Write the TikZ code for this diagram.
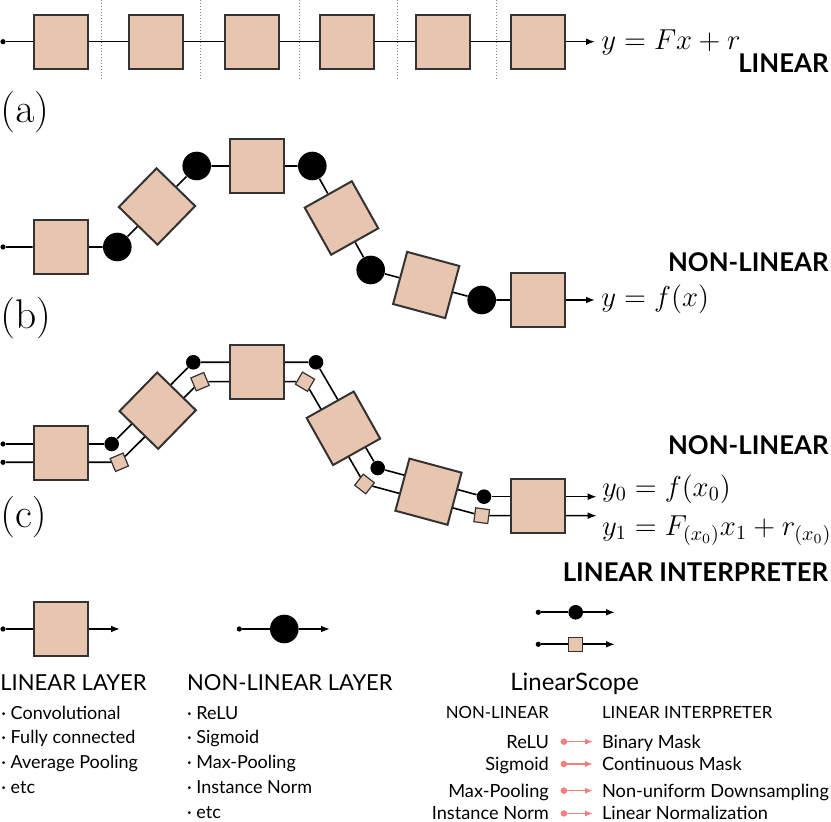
\documentclass[tikz,border=0pt]{standalone}
\usepackage[no-math]{fontspec}
\setmainfont{Lato}
\usetikzlibrary{arrows.meta,backgrounds,calc}
\definecolor{peach}{RGB}{232,197,174}
\definecolor{edge}{RGB}{51,51,51}
\definecolor{salmon}{RGB}{245,125,125}
\newcommand{\boxsize}{27pt}
\newcommand{\dotsize}{2.6pt}
\tikzset{
  linbox/.style={draw=edge, fill=peach, line width=1pt, minimum size=\boxsize, inner sep=0pt},
  nlball/.style={circle, fill=black, minimum size=14.3pt, inner sep=0pt},
  nlsmall/.style={circle, fill=black, minimum size=7.3pt, inner sep=0pt},
  lisquare/.style={draw=edge, fill=peach, line width=0.6pt, minimum size=7pt, inner sep=0pt},
  indot/.style={circle, fill=black, minimum size=\dotsize, inner sep=0pt},
  wire/.style={line width=0.8pt},
  outwire/.style={wire, -{Latex[length=4.5pt,width=3.4pt]}},
  rowlabel/.style={anchor=west, inner sep=0pt, font=\fontsize{20.5}{22}\selectfont},
  eqn/.style={anchor=base west, inner sep=0pt, font=\fontsize{14}{16}\selectfont},
  kind/.style={anchor=base east, inner sep=0pt, font=\fontsize{12.9}{14}\selectfont\bfseries},
  legtitle/.style={anchor=base west, inner sep=0pt, font=\fontsize{11}{13}\selectfont},
  entry/.style={anchor=base west, inner sep=0pt, font=\fontsize{9}{11}\selectfont},
  thead/.style={inner sep=0pt, text height=5.9pt, text depth=0pt, font=\fontsize{8.4}{10}\selectfont},
  tcell/.style={inner sep=0pt, text height=6.4pt, text depth=0pt, font=\fontsize{9.1}{11}\selectfont},
  maparrow/.style={salmon, line width=0.6pt, {Circle[length=3.2pt]}-{Latex[length=3.8pt,width=3pt]}},
}
\begin{document}
\begin{tikzpicture}[x=0.5pt,y=-0.5pt]
\useasboundingbox (0,0) rectangle (831,822);

    %% (a) one linear chain, cut by dotted lines
    \node (a0) at (3,41.7) [indot] {};
    \foreach \i/\x in {1/60.5,2/156,3/251.5,4/347,5/442.5,6/538}
    { \node (a\i) at (\x,41.7) [linbox] {};}
    \coordinate (aout) at (595,41.7);
    \begin{scope}[on background layer]
      \draw[wire] (a0) -- (a1) -- (a2) -- (a3) -- (a4) -- (a5) -- (a6);
      \draw[outwire] (a6) -- (aout);
    \end{scope}
    \foreach \x in {101.7,200.3,299,397.7,496.7}
    { \draw[gray, line width=0.5pt, dash pattern=on 0.5pt off 1pt] (\x,0) -- (\x,80);}
    \node (la) at (0,112) [rowlabel] {$(\mathrm{a})$};
    \node (eqa) at (601,50) [eqn] {$y=Fx+r$};
    \node (kinda) at (829,72.7) [kind] {LINEAR};

    %% (b) linear layers with non-linear ones between
    \node (b0) at (3,247) [indot] {};
    \node (b1) at (60.5,247) [linbox] {};
    \node (bn1) at (117.3,247) [nlball] {};
    \node (bn2) at (196.7,166) [nlball] {};
    \node (b2) at ($(bn1)!0.5!(bn2)$) [linbox, rotate=45.7] {};
    \node (b3) at (257,166) [linbox] {};
    \node (bn3) at (312.3,166) [nlball] {};
    \node (bn4) at (370.7,270) [nlball] {};
    \node (b4) at ($(bn3)!0.5!(bn4)$) [linbox, rotate=-60.7] {};
    \node (bn5) at (481.7,300) [nlball] {};
    \node (b5) at ($(bn4)!0.5!(bn5)$) [linbox, rotate=-15.1] {};
    \node (b6) at (538,300) [linbox] {};
    \coordinate (bout) at (595,300);
    \begin{scope}[on background layer]
      \draw[wire] (b0) -- (b1) -- (bn1) -- (b2) -- (bn2) -- (b3) -- (bn3)
      -- (b4) -- (bn4) -- (b5) -- (bn5) -- (b6);
      \draw[outwire] (b6) -- (bout);
    \end{scope}
    \node (lb) at (0,318) [rowlabel] {$(\mathrm{b})$};
    \node (eqb) at (601,306.6) [eqn] {$y=f(x)$};
    \node (kindb) at (829,271.7) [kind] {NON-LINEAR};

    %% (c) the same net, run twice side by side
    \node (c0a) at (3,444) [indot] {};
    \node (c0b) at (3,462.3) [indot] {};
    \node (c1) at (60.5,453) [linbox] {};
    \node (cn1) at (111.7,444) [nlsmall] {};
    \node (cs1) at (119.3,462.3) [lisquare, rotate=22.9] {};
    \node (c2) at (157.7,410.7) [linbox, rotate=45.7] {};
    \node (cn2) at (193.3,362.3) [nlsmall] {};
    \node (cs2) at (200,381.7) [lisquare, rotate=22.9] {};
    \node (c3) at (257,371.7) [linbox] {};
    \node (cn3) at (316,362.3) [nlsmall] {};
    \node (cs3) at (305,381.7) [lisquare, rotate=-30.4] {};
    \node (c4) at (343.4,428.3) [linbox, rotate=-60.7] {};
    \node (cn4) at (377.7,468) [nlsmall] {};
    \node (cs4) at (364.5,484) [lisquare, rotate=-37.9] {};
    \node (c5) at (428.5,491.7) [linbox, rotate=-15.1] {};
    \node (cn5) at (484,496.7) [nlsmall] {};
    \node (cs5) at (481.7,515.7) [lisquare, rotate=-7.6] {};
    \node (c6) at (538,506) [linbox] {};
    \coordinate (cout0) at (596.7,496.7);
    \coordinate (cout1) at (596.7,515.7);
    \begin{scope}[on background layer]
      \draw[wire] (c0a) -- (cn1) -- (cn2) -- (cn3) -- (cn4) -- (cn5);
      \draw[wire] (c0b) -- (cs1) -- (cs2) -- (cs3) -- (cs4) -- (cs5);
      \draw[outwire] (cn5) -- (cout0);
      \draw[outwire] (cs5) -- (cout1);
    \end{scope}
    \node (lc) at (0,517) [rowlabel] {$(\mathrm{c})$};
    \node (eqc0) at (601.7,496.2) [eqn] {$y_0=f(x_0)$};
    \node (eqc1) at (601.7,535.5) [eqn] {$y_1=F_{(x_0)}x_1+r_{(x_0)}$};
    \node (kindc) at (829,455) [kind] {NON-LINEAR};
    \node (kindli) at (828.5,581.7) [kind] {LINEAR INTERPRETER};

    %% legend
    \node (g0) at (3,629) [indot] {};
    \node (g1) at (60.5,629) [linbox] {};
    \coordinate (gout) at (120,629);
    \node (h0) at (239.3,629) [indot] {};
    \node (h1) at (284.3,629) [nlball] {};
    \coordinate (hout) at (330,629);
    \node (k0) at (538.3,612.3) [indot] {};
    \node (k1) at (575.7,612.3) [nlsmall] {};
    \coordinate (kout) at (615,612.3);
    \node (m0) at (538.3,644.3) [indot] {};
    \node (m1) at (575.7,644.3) [lisquare] {};
    \coordinate (mout) at (615,644.3);
    \begin{scope}[on background layer]
      \draw[wire] (g0) -- (g1);
      \draw[wire] (h0) -- (h1);
      \draw[wire] (k0) -- (k1);
      \draw[wire] (m0) -- (m1);
      \draw[outwire] (g1) -- (gout);
      \draw[outwire] (h1) -- (hout);
      \draw[outwire] (k1) -- (kout);
      \draw[outwire] (m1) -- (mout);
    \end{scope}

    \node (tlin) at (0,691) [legtitle] {LINEAR LAYER};
    \node (tnon) at (186.7,691) [legtitle] {NON-LINEAR LAYER};
    \node (tscope) at (510,691) [legtitle, font=\fontsize{12}{14}\selectfont] {LinearScope};
    \foreach \t [count=\n] in {Convolutional,Fully connected,Average Pooling,etc}
    { \node (lin\n) at (1,719.3+24.7*\n-24.7) [entry] {· \t};}
    \foreach \t [count=\n] in {ReLU,Sigmoid,Max-Pooling,Instance Norm,etc}
    { \node (non\n) at (186.7,719.3+24.7*\n-24.7) [entry] {· \t};}

    \node (hnon) at (549.3,712.5) [thead, anchor=east] {NON-LINEAR};
    \node (hlin) at (601.7,712.5) [thead, anchor=west] {LINEAR INTERPRETER};
    \foreach \a/\b/\y [count=\n] in {ReLU/Binary Mask/741.7,
      Sigmoid/Continuous Mask/764,
      Max-Pooling/Non-uniform Downsampling/790.7,
      Instance Norm/Linear Normalization/813.5}
    { \node (src\n) at (549.3,\y) [tcell, anchor=east] {\a};
      \node (dst\n) at (601.7,\y) [tcell, anchor=west] {\b};
      \draw[maparrow] ([xshift=5.7pt]src\n.east) -- ([xshift=-4.5pt]dst\n.west);}

\end{tikzpicture}
\end{document}
